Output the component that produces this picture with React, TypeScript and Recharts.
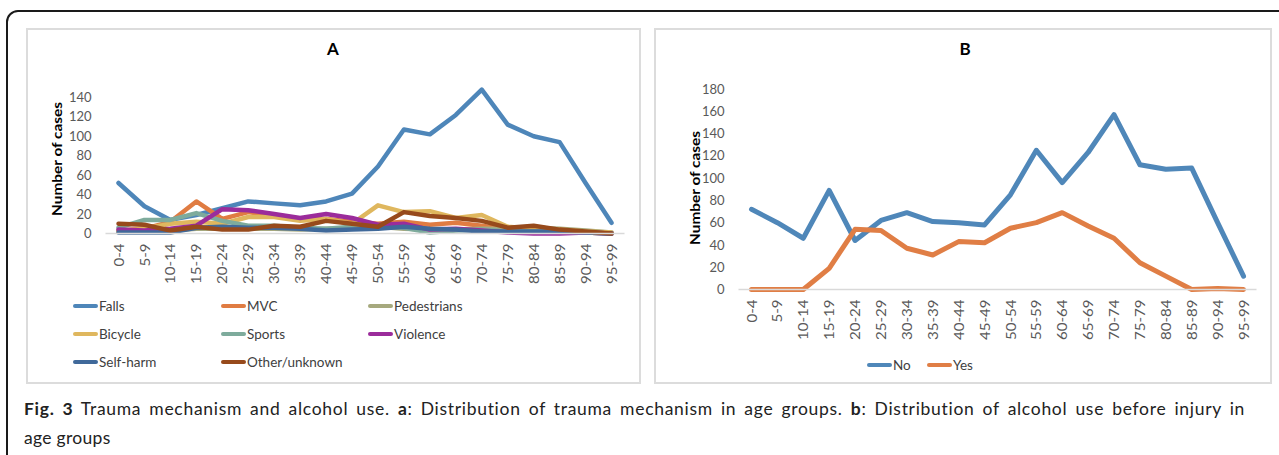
import React from "react";
import { LineChart, Line, XAxis, YAxis } from "recharts";

// Age groups on the x axis (both panels)
const ageGroups = [
  "0-4", "5-9", "10-14", "15-19", "20-24", "25-29", "30-34", "35-39", "40-44", "45-49",
  "50-54", "55-59", "60-64", "65-69", "70-74", "75-79", "80-84", "85-89", "90-94", "95-99",
];

// Panel A: trauma mechanism
const falls = [52, 28, 14, 19, 26, 33, 31, 29, 33, 41, 69, 107, 102, 122, 148, 112, 100, 94, 52, 11];
const mvc = [3, 5, 12, 33, 15, 22, 18, 15, 15, 12, 10, 12, 9, 11, 8, 4, 3, 2, 1, 0];
const pedestrians = [2, 2, 3, 5, 5, 5, 5, 4, 5, 5, 7, 5, 4, 4, 5, 5, 6, 5, 3, 1];
const bicycle = [2, 5, 10, 12, 10, 17, 17, 13, 15, 10, 29, 22, 23, 16, 19, 7, 5, 4, 2, 1];
const sports = [6, 14, 14, 21, 13, 8, 8, 6, 5, 7, 8, 6, 1, 3, 4, 2, 2, 2, 1, 0];
const violence = [4, 3, 5, 8, 25, 24, 20, 16, 20, 16, 9, 10, 4, 5, 3, 1, 0, 0, 1, 0];
const selfHarm = [1, 1, 1, 6, 7, 6, 6, 5, 3, 4, 5, 7, 5, 4, 2, 2, 2, 2, 1, 0];
const other = [10, 9, 3, 7, 4, 4, 8, 7, 13, 10, 7, 22, 18, 16, 13, 6, 8, 4, 2, 0];

// Panel B: alcohol use
const alcoholNo = [72, 60, 46, 89, 44, 62, 69, 61, 60, 58, 85, 125, 96, 123, 157, 112, 108, 109, 60, 12];
const alcoholYes = [0, 0, 0, 19, 54, 53, 37, 31, 43, 42, 55, 60, 69, 57, 46, 24, 12, 0, 1, 0];

const yTicksA = [0, 20, 40, 60, 80, 100, 120, 140];
const yTicksB = [0, 20, 40, 60, 80, 100, 120, 140, 160, 180];

const seriesA = [
  { key: "falls", name: "Falls", color: "#4e86b9", values: falls },
  { key: "mvc", name: "MVC", color: "#e07c42", values: mvc },
  { key: "pedestrians", name: "Pedestrians", color: "#a6a97e", values: pedestrians },
  { key: "bicycle", name: "Bicycle", color: "#dfb75e", values: bicycle },
  { key: "sports", name: "Sports", color: "#7eab9c", values: sports },
  { key: "violence", name: "Violence", color: "#9b2c9b", values: violence },
  { key: "selfHarm", name: "Self-harm", color: "#40699a", values: selfHarm },
  { key: "other", name: "Other/unknown", color: "#974a1c", values: other },
];

const seriesB = [
  { key: "no", name: "No", color: "#4f87b9", values: alcoholNo },
  { key: "yes", name: "Yes", color: "#e07e45", values: alcoholYes },
];

const buildRows = (series: typeof seriesA) =>
  ageGroups.map((age, i) => {
    const row: Record<string, string | number> = { age };
    series.forEach((s) => (row[s.key] = s.values[i]));
    return row;
  });

const dataA = buildRows(seriesA);
const dataB = buildRows(seriesB);

const FONT = "Lato, 'Open Sans', sans-serif";
const GRAY = "#595959";

const AgeTick = (props: any) => {
  const { x, y, payload } = props;
  return (
    <text
      transform={`translate(${x},${y + 10}) rotate(-90) scale(1.16,1)`}
      textAnchor="end"
      dominantBaseline="central"
      fontSize={13}
      fontFamily={FONT}
      fill={GRAY}
    >
      {payload.value}
    </text>
  );
};

const panelBox = (left: number, width: number): React.CSSProperties => ({
  position: "absolute",
  left,
  top: 28,
  width,
  height: 356,
  border: "2px solid #dcdcdc",
  boxSizing: "border-box",
});

const YLabel = ({ cx, cy }: { cx: number; cy: number }) => (
  <div
    style={{
      position: "absolute",
      left: cx - 100,
      top: cy - 10,
      width: 200,
      height: 20,
      lineHeight: "20px",
      textAlign: "center",
      fontFamily: FONT,
      fontWeight: 700,
      fontSize: 13.5,
      color: "#000",
      transform: "rotate(-90deg) scaleX(1.14)",
      whiteSpace: "nowrap",
    }}
  >
    Number of cases
  </div>
);

const Title = ({ cx, text }: { cx: number; text: string }) => (
  <div
    style={{
      position: "absolute",
      left: cx - 20,
      top: 38,
      width: 40,
      textAlign: "center",
      fontFamily: FONT,
      fontWeight: 700,
      fontSize: 17,
      color: "#000",
    }}
  >
    {text}
  </div>
);

const LegendItem = ({ x, y, color, label }: { x: number; y: number; color: string; label: string }) => (
  <div style={{ position: "absolute", left: x, top: y - 10, height: 20, display: "flex", alignItems: "center" }}>
    <div style={{ width: 25, height: 4, borderRadius: 2, background: color }} />
    <span style={{ marginLeft: 1, fontFamily: FONT, fontSize: 13.5, color: "#404040", whiteSpace: "nowrap" }}>
      {label}
    </span>
  </div>
);

const legendColsA = [73, 221, 368];
const legendRowsA = [305.5, 333.5, 361.5];

export default function App() {
  return (
    <div style={{ position: "absolute", left: 0, top: 0, width: 1279, height: 455, background: "#fff", overflow: "hidden" }}>
      {/* outer frame */}
      <div
        style={{
          position: "absolute",
          left: 6,
          top: 10,
          width: 1300,
          height: 480,
          border: "2px solid #1a1a1a",
          borderRadius: 12,
          boxSizing: "border-box",
        }}
      />

      {/* Panel A */}
      <div style={panelBox(26, 615)} />
      <Title cx={333} text="A" />
      <YLabel cx={57} cy={159} />
      <div style={{ position: "absolute", left: 26, top: 28 }}>
        <LineChart width={615} height={356} data={dataA} margin={{ top: 50, right: 16.5, bottom: 90.5, left: 0 }}>
          <XAxis
            dataKey="age"
            scale="point"
            interval={0}
            padding={{ left: 13, right: 13 }}
            height={60}
            tickLine={false}
            tickSize={0}
            tickMargin={0}
            axisLine={{ stroke: "#d9d9d9", strokeWidth: 1.5 }}
            tick={<AgeTick />}
          />
          <YAxis
            width={79.5}
            domain={[0, 160]}
            ticks={yTicksA}
            interval={0}
            axisLine={false}
            tickLine={false}
            tickSize={0}
            tickMargin={14}
            tick={{ fill: GRAY, fontSize: 13, fontFamily: FONT }}
          />
          {seriesA.map((s) => (
            <Line
              key={s.key}
              dataKey={s.key}
              name={s.name}
              stroke={s.color}
              strokeWidth={4.5}
              strokeLinejoin="round"
              strokeLinecap="round"
              dot={false}
              activeDot={false}
              isAnimationActive={false}
            />
          ))}
        </LineChart>
      </div>
      {seriesA.map((s, i) => (
        <LegendItem
          key={s.key}
          x={legendColsA[i % 3]}
          y={legendRowsA[Math.floor(i / 3)]}
          color={s.color}
          label={s.name}
        />
      ))}

      {/* Panel B */}
      <div style={panelBox(654, 618)} />
      <Title cx={965} text="B" />
      <YLabel cx={695} cy={188} />
      <div style={{ position: "absolute", left: 654, top: 28 }}>
        <LineChart width={618} height={356} data={dataB} margin={{ top: 61, right: 15.5, bottom: 34.5, left: 0 }}>
          <XAxis
            dataKey="age"
            scale="point"
            interval={0}
            padding={{ left: 13, right: 13 }}
            height={60}
            tickLine={false}
            tickSize={0}
            tickMargin={0}
            axisLine={{ stroke: "#d9d9d9", strokeWidth: 1.5 }}
            tick={<AgeTick />}
          />
          <YAxis
            width={84.5}
            domain={[0, 180]}
            ticks={yTicksB}
            interval={0}
            axisLine={false}
            tickLine={false}
            tickSize={0}
            tickMargin={14}
            tick={{ fill: GRAY, fontSize: 13, fontFamily: FONT }}
          />
          {seriesB.map((s) => (
            <Line
              key={s.key}
              dataKey={s.key}
              name={s.name}
              stroke={s.color}
              strokeWidth={5}
              strokeLinejoin="round"
              strokeLinecap="round"
              dot={false}
              activeDot={false}
              isAnimationActive={false}
            />
          ))}
        </LineChart>
      </div>
      <LegendItem x={867} y={365} color={seriesB[0].color} label={seriesB[0].name} />
      <LegendItem x={927} y={365} color={seriesB[1].color} label={seriesB[1].name} />

      {/* caption (justified first line) */}
      <div
        style={{
          position: "absolute",
          left: 24,
          top: 394,
          width: 1221,
          fontFamily: FONT,
          fontSize: 17.5,
          lineHeight: "29px",
          color: "#222",
        }}
      >
        <div style={{ textAlign: "justify", textAlignLast: "justify", whiteSpace: "nowrap", letterSpacing: 0.7 }}>
          <b>Fig. 3</b> Trauma mechanism and alcohol use. <b>a</b>: Distribution of trauma mechanism in age groups.{" "}
          <b>b</b>: Distribution of alcohol use before injury in
        </div>
        <div style={{ letterSpacing: 0.3 }}>age groups</div>
      </div>
    </div>
  );
}
